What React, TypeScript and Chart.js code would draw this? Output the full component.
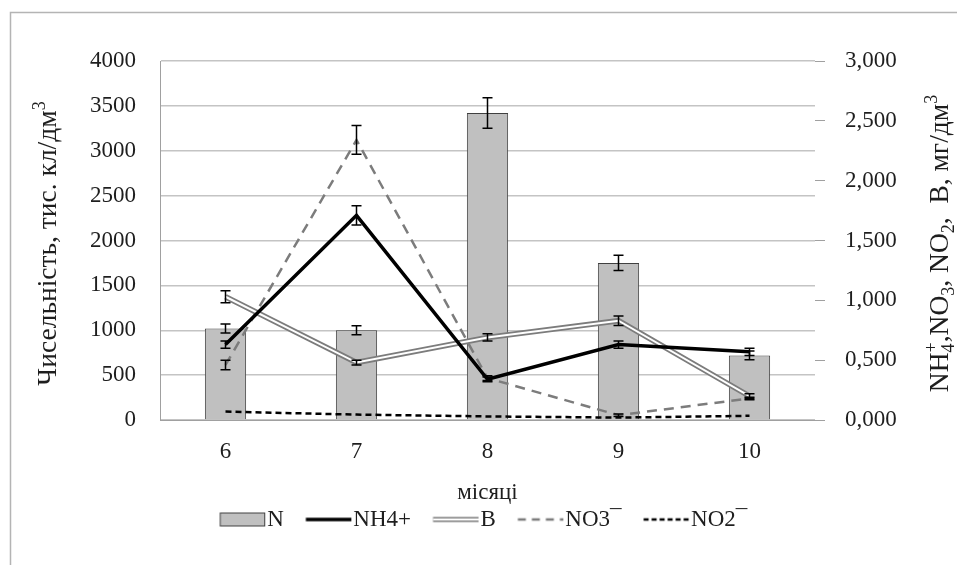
import React, { useEffect, useRef } from 'react';
import { Chart, registerables } from 'chart.js';

Chart.register(...registerables);

// Months of observation
const months = ['6', '7', '8', '9', '10'];

// Abundance, thousand cells per dm³ (left axis) with error margins
const countN = [1020, 1000, 3420, 1750, 720];
const countNErr = [50, 50, 170, 85, 50];

// Concentrations, mg/dm³ (right axis) with error margins
const nh4 = [0.63, 1.71, 0.34, 0.63, 0.57];
const nh4Err = [0.03, 0.08, 0.02, 0.03, 0.03];
const boron = [1.03, 0.48, 0.69, 0.83, 0.2];
const boronErr = [0.05, 0.02, 0.03, 0.04, 0.02];
const no3 = [0.46, 2.34, 0.35, 0.04, 0.18];
const no3Err = [0.04, 0.12, 0.02, 0.01, 0.01];
const no2 = [0.07, 0.045, 0.03, 0.02, 0.035];

// Axis ranges
const leftMin = 0;
const leftMax = 4000;
const leftStep = 500;
const rightMin = 0;
const rightMax = 3;
const rightStep = 0.5;

// Legend labels
const legendLabels = ['N', 'NH4+', 'B', 'NO3\u00AF', 'NO2\u00AF'];

const FONT = "'Liberation Serif', 'Times New Roman', serif";
const TEXT = '#1e1e1e';
const TICK_SIZE = 23;
const LEGEND_SIZE = 23;
const TITLE_SIZE = 27.5;
const PS_WIDTH = 36;

type Seg = { t: string; k?: 'sub' | 'sup' };

const leftTitle: Seg[] = [{ t: 'Чисельність, тис. кл/дм' }, { t: '3', k: 'sup' }];
const rightTitle: Seg[] = [
  { t: 'NH' },
  { t: '4', k: 'sub' },
  { t: '+', k: 'sup' },
  { t: ',NO' },
  { t: '3', k: 'sub' },
  { t: ', NO' },
  { t: '2', k: 'sub' },
  { t: ',  B, мг/дм' },
  { t: '3', k: 'sup' },
];

function drawRich(ctx: CanvasRenderingContext2D, segs: Seg[], cx: number, cy: number, size: number) {
  const small = Math.round(size * 0.65);
  const fontOf = (s: Seg) => `${s.k ? small : size}px ${FONT}`;
  const widths = segs.map((s) => {
    ctx.font = fontOf(s);
    return ctx.measureText(s.t).width;
  });
  // a subscript followed directly by a superscript shares the same horizontal slot
  const advance = segs.map((s, i) => (s.k === 'sub' && segs[i + 1] && segs[i + 1].k === 'sup' ? 0 : widths[i]));
  const total = advance.reduce((a, b) => a + b, 0);
  ctx.save();
  ctx.translate(cx, cy);
  ctx.rotate(-Math.PI / 2);
  ctx.fillStyle = TEXT;
  ctx.textBaseline = 'alphabetic';
  ctx.textAlign = 'left';
  let x = -total / 2;
  const base = size * 0.33;
  segs.forEach((s, i) => {
    ctx.font = fontOf(s);
    let y = base;
    if (s.k === 'sub') y = base + size * 0.22;
    if (s.k === 'sup') y = base - size * 0.42;
    ctx.fillText(s.t, x, y);
    x += advance[i];
  });
  ctx.restore();
}

function makeIcon(kind: string): HTMLCanvasElement {
  const w = PS_WIDTH + LEGEND_SIZE;
  const h = 18;
  const c = document.createElement('canvas');
  c.width = w;
  c.height = h;
  const g = c.getContext('2d') as CanvasRenderingContext2D;
  const end = w - 2;
  const len = PS_WIDTH + LEGEND_SIZE / 2 - 2;
  const start = end - len;
  const mid = h / 2;
  const line = (color: string, lw: number, dash: number[]) => {
    g.save();
    g.strokeStyle = color;
    g.lineWidth = lw;
    g.setLineDash(dash);
    g.beginPath();
    g.moveTo(start, mid);
    g.lineTo(end, mid);
    g.stroke();
    g.restore();
  };
  if (kind === 'bar') {
    g.fillStyle = '#c0c0c0';
    g.fillRect(start + 0.5, mid - 6.5, len - 1, 13);
    g.strokeStyle = '#404040';
    g.lineWidth = 1;
    g.strokeRect(start + 0.5, mid - 6.5, len - 1, 13);
  } else if (kind === 'nh4') {
    line('#000000', 3.5, []);
  } else if (kind === 'b') {
    line('#7c7c7c', 5, []);
    line('#ffffff', 2, []);
  } else if (kind === 'no3') {
    line('#7c7c7c', 2.5, [8, 6]);
  } else {
    line('#000000', 2.5, [5, 3]);
  }
  return c;
}

const errorBarPlugin = {
  id: 'errorBars',
  afterDatasetsDraw(chart: any) {
    const ctx = chart.ctx as CanvasRenderingContext2D;
    chart.data.datasets.forEach((ds: any, di: number) => {
      const errs: number[] | undefined = ds.errorBars;
      if (!errs) return;
      const meta = chart.getDatasetMeta(di);
      const scale = chart.scales[meta.yAxisID];
      ctx.save();
      ctx.strokeStyle = '#000000';
      ctx.lineWidth = 1.5;
      meta.data.forEach((el: any, i: number) => {
        const e = errs[i];
        if (!e) return;
        const v = ds.data[i] as number;
        const x = el.x;
        const yTop = scale.getPixelForValue(v + e);
        const yBot = scale.getPixelForValue(v - e);
        ctx.beginPath();
        ctx.moveTo(x, yTop);
        ctx.lineTo(x, yBot);
        ctx.moveTo(x - 5, yTop);
        ctx.lineTo(x + 5, yTop);
        ctx.moveTo(x - 5, yBot);
        ctx.lineTo(x + 5, yBot);
        ctx.stroke();
      });
      ctx.restore();
    });
  },
};

const frameAndTitlesPlugin = {
  id: 'frameAndTitles',
  beforeDraw(chart: any) {
    const ctx = chart.ctx as CanvasRenderingContext2D;
    ctx.save();
    ctx.fillStyle = '#ffffff';
    ctx.fillRect(0, 0, chart.width, chart.height);
    ctx.strokeStyle = '#b4b4b4';
    ctx.lineWidth = 1.5;
    ctx.beginPath();
    ctx.moveTo(10.5, chart.height);
    ctx.lineTo(10.5, 12.5);
    ctx.lineTo(chart.width, 12.5);
    ctx.stroke();
    ctx.restore();
  },
  afterDraw(chart: any) {
    const ctx = chart.ctx as CanvasRenderingContext2D;
    const area = chart.chartArea;
    const cy = (area.top + area.bottom) / 2;
    drawRich(ctx, leftTitle, 47, cy + 3, TITLE_SIZE);
    drawRich(ctx, rightTitle, 939, cy + 3, TITLE_SIZE);
  },
};

export default function App() {
  const canvasRef = useRef<HTMLCanvasElement | null>(null);

  useEffect(() => {
    const canvas = canvasRef.current;
    if (!canvas) return;
    const icons = [makeIcon('bar'), makeIcon('nh4'), makeIcon('b'), makeIcon('no3'), makeIcon('no2')];

    const chart = new Chart(canvas, {
      type: 'bar',
      data: {
        labels: months,
        datasets: [
          {
            type: 'bar',
            label: legendLabels[0],
            data: countN,
            yAxisID: 'y',
            backgroundColor: '#c0c0c0',
            borderColor: '#404040',
            borderWidth: 1,
            barPercentage: 0.315,
            categoryPercentage: 1,
            order: 10,
            errorBars: countNErr,
          } as any,
          {
            type: 'line',
            label: legendLabels[1],
            data: nh4,
            yAxisID: 'y1',
            borderColor: '#000000',
            borderWidth: 3.5,
            pointRadius: 0,
            fill: false,
            order: 1,
            errorBars: nh4Err,
          } as any,
          {
            type: 'line',
            label: legendLabels[2],
            data: boron,
            yAxisID: 'y1',
            borderColor: '#7c7c7c',
            borderWidth: 5.5,
            pointRadius: 0,
            fill: false,
            order: 3,
            errorBars: boronErr,
          } as any,
          {
            type: 'line',
            label: 'B-inner',
            data: boron,
            yAxisID: 'y1',
            borderColor: '#ffffff',
            borderWidth: 2,
            pointRadius: 0,
            fill: false,
            order: 2,
          } as any,
          {
            type: 'line',
            label: legendLabels[3],
            data: no3,
            yAxisID: 'y1',
            borderColor: '#7c7c7c',
            borderWidth: 2.5,
            borderDash: [10, 7],
            pointRadius: 0,
            fill: false,
            order: 4,
            errorBars: no3Err,
          } as any,
          {
            type: 'line',
            label: legendLabels[4],
            data: no2,
            yAxisID: 'y1',
            borderColor: '#000000',
            borderWidth: 2.5,
            borderDash: [6, 4],
            pointRadius: 0,
            fill: false,
            order: 5,
          } as any,
        ],
      },
      options: {
        responsive: false,
        animation: false,
        layout: { padding: { left: 10, right: 0, top: 61, bottom: 24 } },
        plugins: {
          tooltip: { enabled: false },
          legend: {
            display: true,
            position: 'bottom',
            labels: {
              usePointStyle: true,
              pointStyleWidth: PS_WIDTH,
              padding: 22,
              color: TEXT,
              font: { family: FONT, size: LEGEND_SIZE },
              filter: (item: any) => item.text !== 'B-inner',
              sort: (a: any, b: any) => a.datasetIndex - b.datasetIndex,
              generateLabels: (ch: any) =>
                Chart.defaults.plugins.legend.labels
                  .generateLabels(ch)
                  .map((item: any) => {
                    const idx = [0, 1, 2, -1, 3, 4][item.datasetIndex];
                    return { ...item, pointStyle: idx >= 0 ? icons[idx] : item.pointStyle, fontColor: TEXT };
                  }),
            },
          },
        },
        scales: {
          x: {
            offset: true,
            grid: { display: false, drawTicks: false },
            border: { display: true, color: '#a0a0a0', width: 1 },
            ticks: { color: TEXT, padding: 18, font: { family: FONT, size: TICK_SIZE } },
            title: {
              display: true,
              text: 'місяці',
              color: TEXT,
              padding: { top: 0, bottom: -21 },
              font: { family: FONT, size: TICK_SIZE },
            },
            afterFit: (s: any) => {
              s.height = 66;
            },
          },
          y: {
            position: 'left',
            min: leftMin,
            max: leftMax,
            grid: { color: '#c4c4c4', lineWidth: 1.5, drawTicks: false },
            border: { display: true, color: '#a0a0a0', width: 1 },
            ticks: {
              stepSize: leftStep,
              padding: 24,
              color: TEXT,
              font: { family: FONT, size: TICK_SIZE },
              callback: (v: any) => String(v),
            },
            afterFit: (s: any) => {
              s.width = 150;
            },
          },
          y1: {
            position: 'right',
            min: rightMin,
            max: rightMax,
            grid: { drawOnChartArea: false, drawTicks: true, tickLength: 10, color: '#a0a0a0', tickColor: '#a0a0a0' },
            border: { display: false },
            ticks: {
              stepSize: rightStep,
              padding: 20,
              color: TEXT,
              font: { family: FONT, size: TICK_SIZE },
              callback: (v: any) => Number(v).toFixed(3).replace('.', ','),
            },
            afterFit: (s: any) => {
              s.width = 142;
            },
          },
        },
      } as any,
      plugins: [frameAndTitlesPlugin, errorBarPlugin],
    });

    return () => {
      chart.destroy();
    };
  }, []);

  return (
    <div style={{ position: 'absolute', left: 0, top: 0, width: 957, height: 565, background: '#ffffff' }}>
      <canvas ref={canvasRef} width={957} height={565} style={{ display: 'block', width: 957, height: 565 }} />
    </div>
  );
}
